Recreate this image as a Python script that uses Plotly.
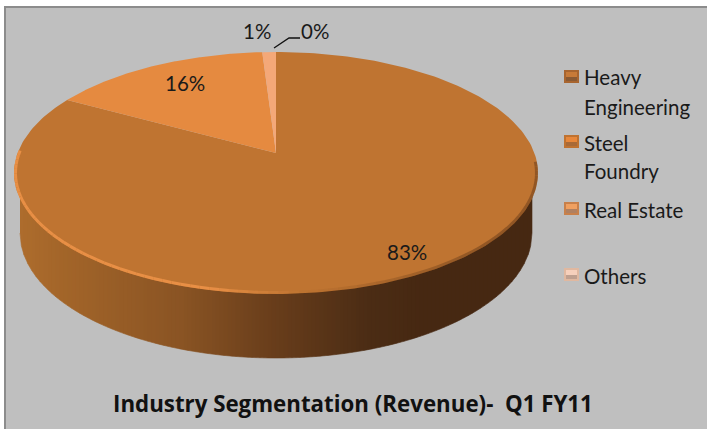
import numpy as np
import plotly.graph_objects as go

# ---- data ----
categories = ["Heavy Engineering", "Steel Foundry", "Real Estate", "Others"]
values = [83, 0, 16, 1]
legend_lines = [["Heavy", "Engineering"], ["Steel", "Foundry"], ["Real Estate"], ["Others"]]
title_text = "Industry Segmentation (Revenue)-  Q1 FY11"
face_colors = ["#BF7431", "#C97A33", "#E58A40", "#F4A878"]

# ---- geometry of the 3-D disc (pixel scale of the axes) ----
CX, CY, RX, RY = 276, 173, 262, 121
APEX_Y = 153
BOTTOM_CY, BOTTOM_RX, BOTTOM_RY = 233, 256, 125
WALL_STOPS = [(14, (176, 110, 46)), (60, (164, 102, 42)), (183, (138, 84, 36)),
              (267, (107, 63, 28)), (367, (76, 45, 21)), (430, (70, 40, 18)), (540, (70, 40, 18))]
FONT = "Lato, Carlito, Calibri, sans-serif"
TITLE_FONT = "Open Sans, Lato, sans-serif"


def rim_point(theta):
    """Ray from the off-centre apex (perspective) to the top ellipse; theta clockwise from 12 o'clock."""
    dx, dy = RX * np.sin(theta), -RY * np.cos(theta)
    oy = APEX_Y - CY
    a = (dx / RX) ** 2 + (dy / RY) ** 2
    b = 2 * oy * dy / RY ** 2
    c = (oy / RY) ** 2 - 1
    s = (-b + np.sqrt(b * b - 4 * a * c)) / (2 * a)
    return CX + s * dx, APEX_Y + s * dy


def wall_color(x):
    xs = [p[0] for p in WALL_STOPS]
    rgb = [np.interp(x, xs, [p[1][i] for p in WALL_STOPS]) for i in range(3)]
    return "rgb(%d,%d,%d)" % tuple(rgb)


fig = go.Figure()

# side wall: thin vertical strips shaded from left to right
strip_edges = np.arange(CX - BOTTOM_RX, CX + BOTTOM_RX + 0.1, 4.0)
for x0, x1 in zip(strip_edges[:-1], strip_edges[1:]):
    xs = np.linspace(x0, x1, 4)
    u = np.clip((xs - CX) / RX, -1, 1)
    top = CY + RY * np.sqrt(1 - u ** 2)
    bot = BOTTOM_CY + BOTTOM_RY * np.sqrt(np.clip(1 - ((xs - CX) / BOTTOM_RX) ** 2, 0, 1))
    fig.add_trace(go.Scatter(
        x=np.r_[xs, xs[::-1]], y=np.r_[top - 2, bot[::-1]], mode="lines", fill="toself",
        fillcolor=wall_color((x0 + x1) / 2), line=dict(width=0.6, color=wall_color((x0 + x1) / 2)),
        hoverinfo="skip", showlegend=False))

# top face wedges, clockwise from 12 o'clock
total = sum(values)
fractions = np.cumsum([0] + values) / total
for i, cat in enumerate(categories):
    if values[i] == 0:
        continue
    th = np.linspace(fractions[i], fractions[i + 1], 240) * 2 * np.pi
    rx_pts, ry_pts = zip(*[rim_point(t) for t in th])
    fig.add_trace(go.Scatter(
        x=[CX, *rx_pts, CX], y=[APEX_Y, *ry_pts, APEX_Y], mode="lines", fill="toself",
        fillcolor=face_colors[i], line=dict(width=0), name=cat, hoverinfo="name", showlegend=False))

# bevel on the front rim: bright at left, fading and darkening to the right
rim_edges = np.linspace(0.47, 1.56, 90) * np.pi
for t0, t1 in zip(rim_edges[:-1], rim_edges[1:]):
    ts = np.linspace(t0, t1, 4)
    xs = CX + (RX - 1.5) * np.sin(ts)
    ys = CY - (RY - 1.5) * np.cos(ts)
    xm = xs.mean()
    if xm < 300:
        k = np.clip((300 - xm) / 90, 0, 1)
        col = "rgba(236,146,72,%.2f)" % (k * 0.9)
    else:
        k = np.clip((xm - 300) / 180, 0, 1)
        col = "rgba(90,52,22,%.2f)" % (k * 0.45)
    fig.add_trace(go.Scatter(x=xs, y=ys, mode="lines", line=dict(width=3, color=col),
                             hoverinfo="skip", showlegend=False))

# data labels
label_pos = [(407, 252), (315, 31), (185, 83), (257, 31)]
annotations = []
for v, (lx, ly) in zip(values, label_pos):
    annotations.append(dict(x=lx, y=ly, text="%d%%" % round(100 * v / total), showarrow=False,
                            xref="x", yref="y", font=dict(family=FONT, size=20.5, color="#1a1a1a")))

# leader line for the 0 % slice
fig.add_trace(go.Scatter(x=[274, 289, 300], y=[48, 38, 38], mode="lines",
                         line=dict(color="#111111", width=1.3), hoverinfo="skip", showlegend=False))

shapes = [dict(type="rect", x0=5, y0=7, x1=730, y1=450, xref="x", yref="y", layer="below",
               fillcolor="#BFBFBF", line=dict(color="#8C8C8C", width=2))]

# legend
icon_tops = [70, 135, 202, 268]
text_rows = [(77, 107), (143, 171), (210,), (276,)]
icon_styles = [("#A8652F", "#C77A38", "#8A5A33"), ("#BF7230", "#E8873A", "#A86A38"),
               ("#C8804A", "#F0A060", "#B08060"), ("#E0B8A0", "#F6D0BC", "#BFA090")]
for top, rows, lines, (edge, core, low) in zip(icon_tops, text_rows, legend_lines, icon_styles):
    shapes.append(dict(type="rect", x0=564, x1=579, y0=top, y1=top + 13, xref="x", yref="y",
                       fillcolor=edge, line=dict(width=0)))
    shapes.append(dict(type="rect", x0=566, x1=577, y0=top + 2, y1=top + 7, xref="x", yref="y",
                       fillcolor=core, line=dict(width=0)))
    shapes.append(dict(type="rect", x0=566, x1=577, y0=top + 7, y1=top + 11, xref="x", yref="y",
                       fillcolor=low, line=dict(width=0)))
    for ry_, line_text in zip(rows, lines):
        annotations.append(dict(x=582, y=ry_, text=line_text, showarrow=False, xanchor="left",
                                xref="x", yref="y", font=dict(family=FONT, size=20.5, color="#1a1a1a")))

annotations.append(dict(x=353, y=403, text="<b>%s</b>" % title_text, showarrow=False,
                        xref="x", yref="y", font=dict(family=TITLE_FONT, size=22.3, color="#111111")))

fig.update_layout(
    width=707, height=429, margin=dict(l=0, r=0, t=0, b=0), autosize=False,
    paper_bgcolor="white", plot_bgcolor="white", showlegend=False,
    xaxis=dict(range=[0, 707], visible=False, fixedrange=True),
    yaxis=dict(range=[429, 0], visible=False, fixedrange=True),
    shapes=shapes, annotations=annotations,
)
fig.write_html("out.html", config={"displayModeBar": False},
               post_script="document.body.style.margin='0';document.body.style.overflow='hidden';")
